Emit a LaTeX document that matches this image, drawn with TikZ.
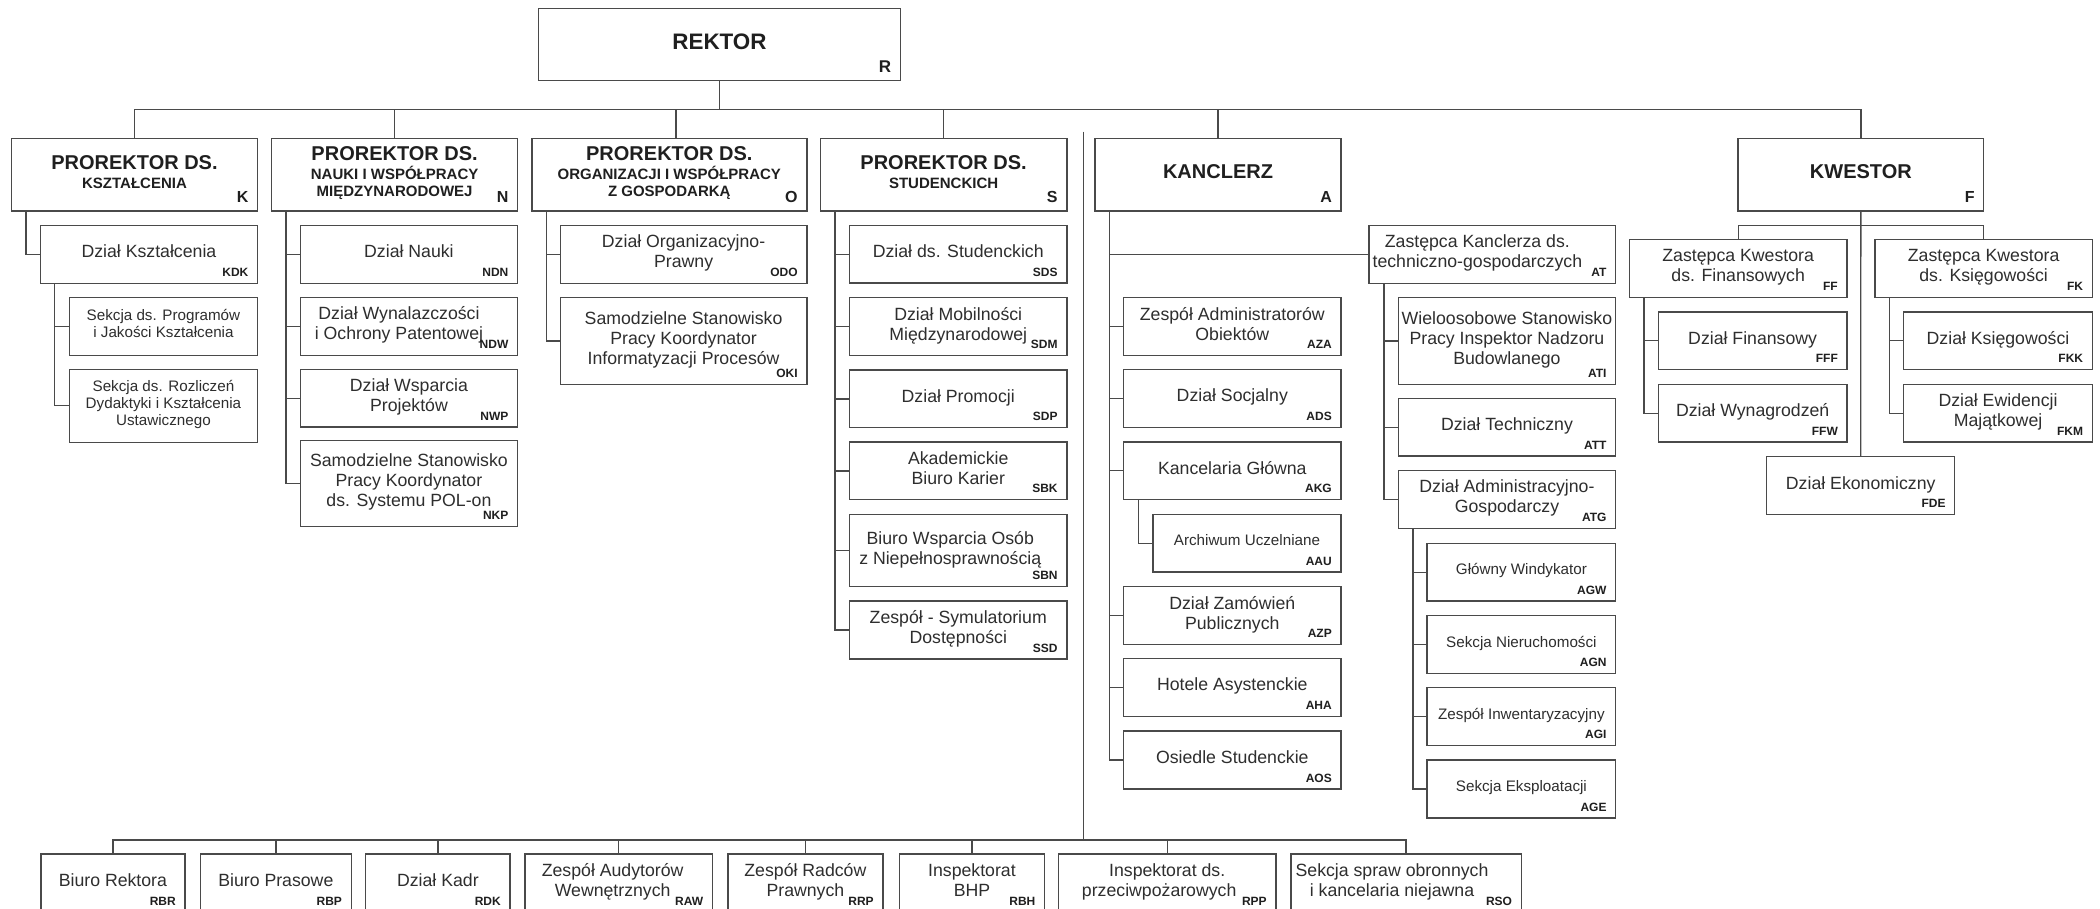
\documentclass[tikz,border=0pt]{standalone}
\usepackage{fontspec}
\setmainfont{Liberation Sans}
\usetikzlibrary{fit,calc}
\definecolor{linec}{HTML}{4A4A4A}
\definecolor{txtc}{HTML}{2E2E2E}
\definecolor{titc}{HTML}{1F1F1F}
\tikzset{
  boxst/.style={draw=linec, line width=1.4pt, rectangle, inner sep=0pt, outer sep=0pt},
  conn/.style={draw=linec, line width=1.3pt},
  txtst/.style={text=txtc, align=center, inner sep=0pt, text depth=6pt, font=\fontsize{17.7}{20}\selectfont},
  smallt/.style={font=\fontsize{15.2}{17.3}\selectfont},
  titlest/.style={text=titc, align=center, inner sep=0pt, text depth=6pt, font=\bfseries\fontsize{15}{17.5}\selectfont},
  codest/.style={text=titc, inner sep=0pt, anchor=base east, font=\bfseries\fontsize{12}{12}\selectfont},
  bigcode/.style={text=titc, inner sep=0pt, anchor=base east, font=\bfseries\fontsize{16}{16}\selectfont},
}
% box with small code
\newcommand\obox[8][]{%
  \node[boxst, fit={(#3,#4) (#5,#6)}] (#2) {};
  \node[txtst,#1] (#2t) at (#2.center) {#7};
  \node[codest] (#2c) at ($(#2.south east)+(-9,-6.8)$) {#8};
}
% box without code
\newcommand\nbox[7][]{%
  \node[boxst, fit={(#3,#4) (#5,#6)}] (#2) {};
  \node[txtst,#1] (#2t) at (#2.center) {#7};
}
% title box with big code
\newcommand\tbox[8][]{%
  \node[boxst, fit={(#3,#4) (#5,#6)}] (#2) {};
  \node[titlest,#1] (#2t) at (#2.center) {#7};
  \node[bigcode] (#2c) at ($(#2.south east)+(-9,-8.5)$) {#8};
}
\newcommand\prodz{{\fontsize{20}{17.5}\selectfont PROREKTOR DS.}\\[1.5pt]}
\begin{document}
\begin{tikzpicture}[x=1pt,y=-1pt]
\fill[white] (0,0) rectangle (2100,908);
\useasboundingbox (0,0) rectangle (2100,908);
\clip (0,0) rectangle (2100,908);

% ---------- top level ----------
\tbox{rek}{538.6}{8.3}{900.4}{80.7}{{\fontsize{22.4}{22}\selectfont REKTOR}}{{\fontsize{17}{17}\selectfont R}}
\tbox{pk}{11.4}{138.3}{257.6}{211}{\prodz KSZTAŁCENIA}{K}
\tbox{pn}{271.7}{138.3}{517.6}{211}{\prodz NAUKI I WSPÓŁPRACY\\MIĘDZYNARODOWEJ}{N}
\tbox{po}{531.8}{138.3}{806.8}{211}{\prodz ORGANIZACJI I WSPÓŁPRACY\\Z GOSPODARKĄ}{O}
\tbox{ps}{820.4}{138.3}{1066.8}{211}{\prodz STUDENCKICH}{S}
\tbox{ka}{1095}{138.3}{1341}{211}{{\fontsize{20}{20}\selectfont KANCLERZ}}{A}
\tbox{kw}{1738}{138.3}{1983.7}{211}{{\fontsize{20}{20}\selectfont KWESTOR}}{F}

% ---------- K ----------
\obox{kdk}{40.3}{225.3}{257.6}{283.3}{Dział Kształcenia}{KDK}
\nbox[smallt]{ksp}{69.3}{297.3}{257.6}{355.3}{Sekcja ds. Programów\\i Jakości Kształcenia}
\nbox[smallt]{ksr}{69.3}{369.3}{257.6}{442.3}{Sekcja ds. Rozliczeń\\Dydaktyki i Kształcenia\\Ustawicznego}

% ---------- N ----------
\obox{ndn}{300.3}{225.3}{517.6}{283.3}{Dział Nauki}{NDN}
\obox[xshift=-10pt]{ndw}{300.3}{297.3}{517.6}{355.3}{Dział Wynalazczości\\i Ochrony Patentowej}{NDW}
\obox{nwp}{300.3}{369.3}{517.6}{427}{Dział Wsparcia\\Projektów}{NWP}
\obox{nkp}{300.3}{440.3}{517.6}{526.7}{Samodzielne Stanowisko\\Pracy Koordynator\\ds. Systemu POL-on}{NKP}

% ---------- O ----------
\obox{odo}{560.4}{225.3}{806.8}{283.3}{Dział Organizacyjno-\\Prawny}{ODO}
\obox{oki}{560.4}{297.5}{806.8}{384.3}{Samodzielne Stanowisko\\Pracy Koordynator\\Informatyzacji Procesów}{OKI}

% ---------- S ----------
\obox{sds}{849.7}{225.3}{1066.8}{283}{Dział ds. Studenckich}{SDS}
\obox{sdm}{849.7}{297.7}{1066.8}{355.3}{Dział Mobilności\\Międzynarodowej}{SDM}
\obox{sdp}{849.7}{370}{1066.8}{427.7}{Dział Promocji}{SDP}
\obox{sbk}{849.7}{442}{1066.8}{499.7}{Akademickie\\Biuro Karier}{SBK}
\obox[xshift=-8pt]{sbn}{849.7}{514.3}{1066.8}{586.7}{Biuro Wsparcia Osób\\z Niepełnosprawnością}{SBN}
\obox{ssd}{849.7}{601}{1066.8}{659}{Zespół - Symulatorium\\Dostępności}{SSD}

% ---------- A ----------
\obox{aza}{1123.6}{297.7}{1341}{355.3}{Zespół Administratorów\\Obiektów}{AZA}
\obox{ads}{1123.6}{369.3}{1341}{427.3}{Dział Socjalny}{ADS}
\obox{akg}{1123.6}{442}{1341}{499.3}{Kancelaria Główna}{AKG}
\obox[smallt]{aau}{1152.9}{514.3}{1341}{572}{Archiwum Uczelniane}{AAU}
\obox{azp}{1123.6}{586.7}{1341}{644.3}{Dział Zamówień\\Publicznych}{AZP}
\obox{aha}{1123.6}{658.7}{1341}{716.3}{Hotele Asystenckie}{AHA}
\obox{aos}{1123.6}{731}{1341}{789}{Osiedle Studenckie}{AOS}

% ---------- AT ----------
\obox[xshift=-15pt]{at}{1369}{225.3}{1615.7}{283.3}{Zastępca Kanclerza ds.\\techniczno-gospodarczych}{AT}
\obox{ati}{1398.2}{297.7}{1615.7}{384.3}{Wieloosobowe Stanowisko\\Pracy Inspektor Nadzoru\\Budowlanego}{ATI}
\obox{att}{1398.2}{398.3}{1615.7}{456}{Dział Techniczny}{ATT}
\obox{atg}{1398.2}{470.7}{1615.7}{528.3}{Dział Administracyjno-\\Gospodarczy}{ATG}
\obox[smallt]{agw}{1427.1}{543.3}{1615.7}{601}{Główny Windykator}{AGW}
\obox[smallt]{agn}{1427.1}{615.7}{1615.7}{673.3}{Sekcja Nieruchomości}{AGN}
\obox[smallt]{agi}{1427.1}{687.7}{1615.7}{745.3}{Zespół Inwentaryzacyjny}{AGI}
\obox[smallt]{age}{1427.1}{760}{1615.7}{818}{Sekcja Eksploatacji}{AGE}

% ---------- F ----------
\obox{ff}{1629.3}{239.7}{1847}{297.3}{Zastępca Kwestora\\ds. Finansowych}{FF}
\obox{fk}{1875}{239.7}{2092.3}{297.3}{Zastępca Kwestora\\ds. Księgowości}{FK}
\obox{fff}{1658.3}{312}{1847}{369.3}{Dział Finansowy}{FFF}
\obox{ffw}{1658.3}{384.3}{1847}{442}{Dział Wynagrodzeń}{FFW}
\obox{fkk}{1903.7}{312}{2092.3}{369.3}{Dział Księgowości}{FKK}
\obox{fkm}{1903.7}{384.3}{2092.3}{442}{Dział Ewidencji\\Majątkowej}{FKM}
\obox{fde}{1766.7}{456.7}{1954.7}{514.7}{Dział Ekonomiczny}{FDE}

% ---------- bottom row ----------
\obox{rbr}{40.8}{854}{185}{912}{Biuro Rektora}{RBR}
\obox{rbp}{200.5}{854}{351.2}{912}{Biuro Prasowe}{RBP}
\obox{rdk}{365.7}{854}{510}{912}{Dział Kadr}{RDK}
\obox[xshift=-6pt]{raw}{524.9}{854}{712.4}{912}{Zespół Audytorów\\Wewnętrznych}{RAW}
\obox{rrp}{727.9}{854}{882.9}{912}{Zespół Radców\\Prawnych}{RRP}
\obox{rbh}{899.3}{854}{1044.6}{912}{Inspektorat\\BHP}{RBH}
\obox{rpp}{1058.5}{854}{1275.9}{912}{Inspektorat ds.\\przeciwpożarowych\hspace*{16pt}}{RPP}
\obox[xshift=-14pt]{rso}{1290.8}{854}{1521.2}{912}{Sekcja spraw obronnych\\i kancelaria niejawna}{RSO}

% ---------- connectors ----------
\coordinate (topbar) at (0,109.3);
\coordinate (fbar) at (0,225.3);
\coordinate (bbar) at (0,840);
\coordinate (divtop) at (1083.4,131.7);

\draw[conn] (rek.south) -- (rek.south |- topbar);
\draw[conn] (pk.north) -- (pk.north |- topbar) -- (kw.north |- topbar) -- (kw.north);
\draw[conn] (pn.north) -- (pn.north |- topbar);
\draw[conn] ([xshift=6.7pt]po.north) -- ([xshift=6.7pt]po.north |- topbar);
\draw[conn] (ps.north) -- (ps.north |- topbar);
\draw[conn] (ka.north) -- (ka.north |- topbar);

\foreach \c in {kdk} \draw[conn] ([xshift=14.5pt]pk.south west) |- (\c.west);
\foreach \c in {ksp,ksr} \draw[conn] ([xshift=14.5pt]kdk.south west) |- (\c.west);
\foreach \c in {ndn,ndw,nwp,nkp} \draw[conn] ([xshift=14.2pt]pn.south west) |- (\c.west);
\foreach \c in {odo,oki} \draw[conn] ([xshift=15pt]po.south west) |- (\c.west);
\foreach \c in {sds,sdm,sdp,sbk,sbn,ssd} \draw[conn] ([xshift=14.6pt]ps.south west) |- (\c.west);
\foreach \c in {at,aza,ads,akg,azp,aha,aos} \draw[conn] ([xshift=14.6pt]ka.south west) |- (\c.west);
\foreach \c in {aau} \draw[conn] ([xshift=14.6pt]akg.south west) |- (\c.west);
\foreach \c in {ati,att,atg} \draw[conn] ([xshift=15pt]at.south west) |- (\c.west);
\foreach \c in {agw,agn,agi,age} \draw[conn] ([xshift=14.7pt]atg.south west) |- (\c.west);
\foreach \c in {fff,ffw} \draw[conn] ([xshift=14.7pt]ff.south west) |- (\c.west);
\foreach \c in {fkk,fkm} \draw[conn] ([xshift=14.7pt]fk.south west) |- (\c.west);

\draw[conn] (ff.north) -- (ff.north |- fbar) -- (fk.north |- fbar) -- (fk.north);
\draw[conn] (kw.south) -- (fde.north);

\draw[conn] (divtop) -- (divtop |- bbar);
\draw[conn] (rbr.north) -- (rbr.north |- bbar) -- (rso.north |- bbar) -- (rso.north);
\foreach \c in {rbp,rdk,raw,rrp,rbh,rpp} \draw[conn] (\c.north) -- (\c.north |- bbar);
\end{tikzpicture}
\end{document}
